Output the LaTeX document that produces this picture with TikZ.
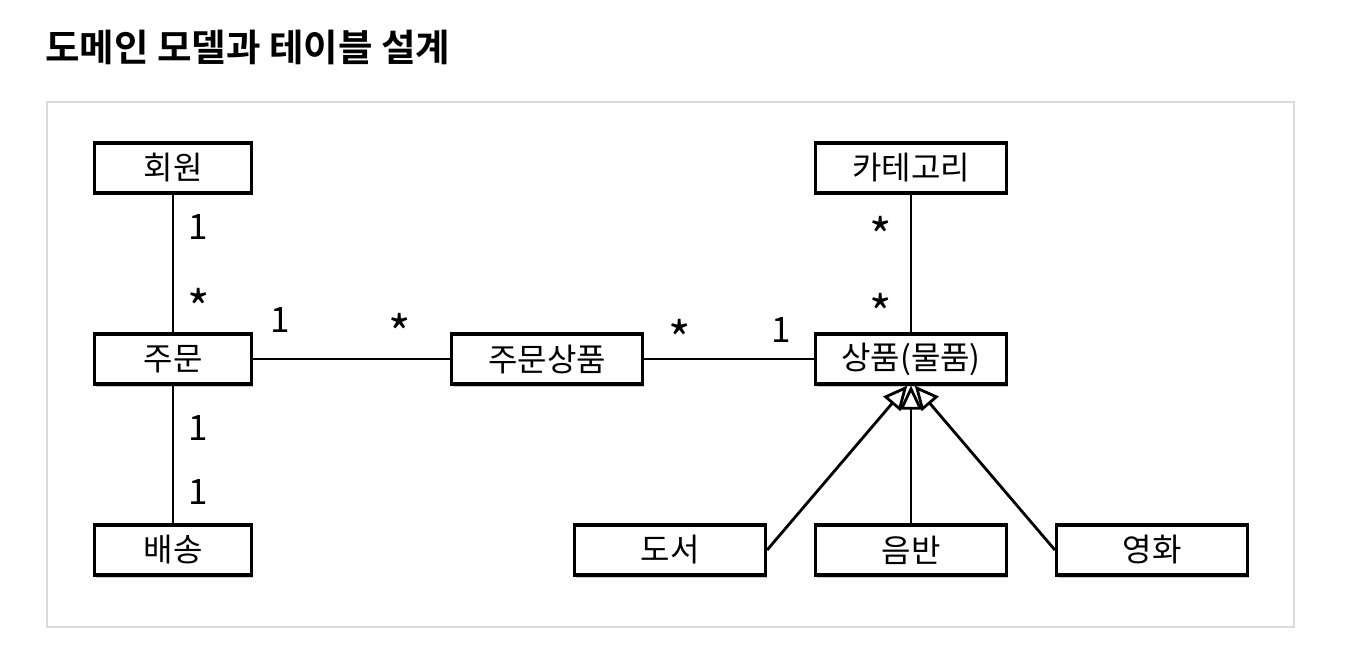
\documentclass[tikz,border=0pt]{standalone}
\usepackage{fontspec}
\setmainfont{Noto Sans CJK KR}
\newfontfamily\titlefont{Noto Sans CJK KR Bold}
\usetikzlibrary{arrows.meta,shadows}
\tikzset{
  entity/.style={draw, line width=3.2pt, fill=white, minimum width=191pt, minimum height=50pt,
    inner sep=0pt, font=\fontsize{32}{32}\selectfont,
    drop shadow={shadow xshift=1.5pt, shadow yshift=-2.5pt, opacity=.35, fill=black!60}},
  mult/.style={font=\fontsize{35}{35}\selectfont, inner sep=0pt},
  many/.style={font=\fontsize{48}{48}\selectfont, inner sep=0pt},
  link/.style={line width=2.8pt},
  isa/.style={line width=2.8pt, -{Triangle[open, length=24pt, width=22pt, line width=2.8pt]}}
}
\begin{document}
\begin{tikzpicture}[x=1pt, y=-1pt]
  \useasboundingbox (0,0) rectangle (1356,668);
  \node[anchor=west, font=\fontsize{37.5}{37.5}\titlefont, inner sep=0pt] (title) at (45,47) {도메인 모델과 테이블 설계};
  \draw[black!14, line width=2.5pt] (47,102) rectangle (1294,627);
  % entities
  \node[entity, minimum width=157pt] (member) at (173,168) {회원};
  \node[entity, minimum width=157pt] (order) at (173,359) {주문};
  \node[entity, minimum width=157pt] (delivery) at (173,550) {배송};
  \node[entity] (orderitem) at (547,359) {주문상품};
  \node[entity] (category) at (911,168) {카테고리};
  \node[entity] (item) at (911,359) {상품(물품)};
  \node[entity] (book) at (670,550) {도서};
  \node[entity] (album) at (911,550) {음반};
  \node[entity] (movie) at (1152,550) {영화};
  % associations
  \draw[link] (member) -- (order);
  \draw[link] (order) -- (delivery);
  \draw[link] (order) -- (orderitem);
  \draw[link] (orderitem) -- (item);
  \draw[link] (category) -- (item);
  % inheritance
  \draw[isa] (book.east) -- (item.262);
  \draw[isa] (album.north) -- (item.south);
  \draw[isa] (movie.west) -- (item.278);
  % multiplicities
  \node[mult] (m1) at (198,227) {1};
  \node[many] (m2) at (199,307) {*};
  \node[mult] (m3) at (280,320) {1};
  \node[many] (m4) at (400,332) {*};
  \node[many] (m5) at (680,338) {*};
  \node[mult] (m6) at (781,330) {1};
  \node[many] (m7) at (881,235) {*};
  \node[many] (m8) at (881,312) {*};
  \node[mult] (m9) at (198,428) {1};
  \node[mult] (m10) at (198,492) {1};
\end{tikzpicture}
\end{document}
